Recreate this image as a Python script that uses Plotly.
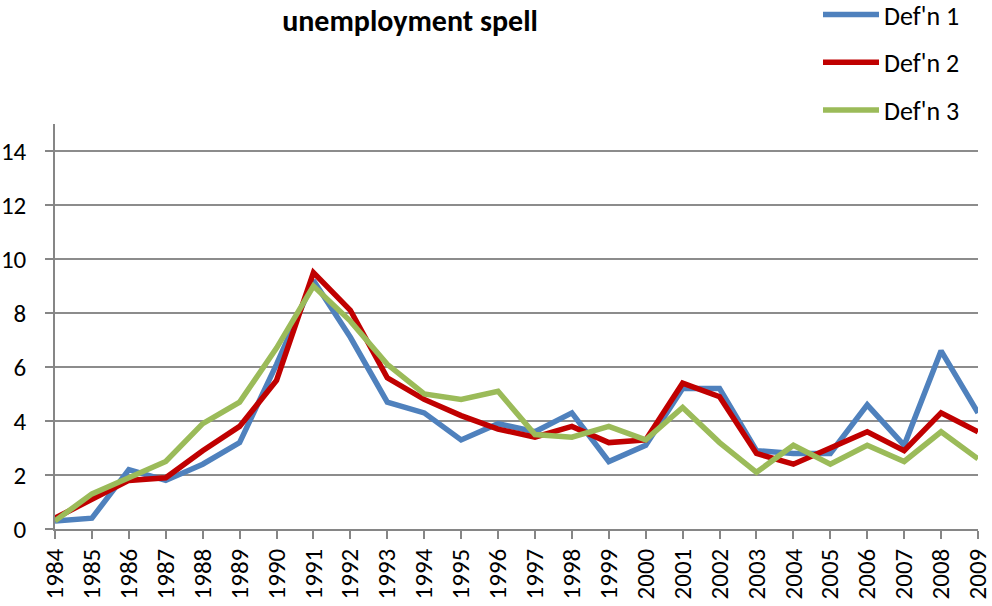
import plotly.graph_objects as go

years = list(range(1984, 2010))
defn1 = [0.3, 0.4, 2.2, 1.8, 2.4, 3.2, 6.1, 9.2, 7.1, 4.7, 4.3, 3.3, 3.9, 3.6, 4.3, 2.5, 3.1, 5.2, 5.2, 2.9, 2.8, 2.8, 4.6, 3.1, 6.6, 4.3]
defn2 = [0.4, 1.1, 1.8, 1.9, 2.9, 3.8, 5.5, 9.5, 8.1, 5.6, 4.8, 4.2, 3.7, 3.4, 3.8, 3.2, 3.3, 5.4, 4.9, 2.8, 2.4, 3.0, 3.6, 2.9, 4.3, 3.6]
defn3 = [0.3, 1.3, 1.9, 2.5, 3.9, 4.7, 6.7, 9.0, 7.7, 6.1, 5.0, 4.8, 5.1, 3.5, 3.4, 3.8, 3.3, 4.5, 3.2, 2.1, 3.1, 2.4, 3.1, 2.5, 3.6, 2.6]
series_names = ["Def'n 1", "Def'n 2", "Def'n 3"]
colors = ["#4F81BD", "#C00000", "#9BBB59"]

FONT = "Carlito, Calibri, Lato, sans-serif"

fig = go.Figure()
for name, vals, col in zip(series_names, [defn1, defn2, defn3], colors):
    fig.add_trace(go.Scatter(x=years, y=vals, name=name, mode="lines",
                             line=dict(color=col, width=5.5), legendgroup=name))

fig.update_layout(
    width=992, height=606,
    margin=dict(l=55, r=14, t=124, b=77, autoexpand=False),
    paper_bgcolor="white", plot_bgcolor="white",
    font=dict(family=FONT, size=25, color="black"),
    title=dict(text="<b>unemployment spell</b>", x=410/992, xanchor="center",
               y=1-20/606, yanchor="middle", font=dict(size=30, family=FONT)),
    legend=dict(x=818/992, xanchor="left", xref="container",
                y=538/405, yanchor="top", yref="paper",
                tracegroupgap=11, itemwidth=56, font=dict(size=26, family=FONT),
                bgcolor="rgba(0,0,0,0)"),
    showlegend=True,
)
fig.update_xaxes(range=[1984, 2009], tickmode="array", tickvals=years,
                 ticktext=[str(y) for y in years], tickangle=-90, automargin=False,
                 ticklabeloverflow="allow",
                 showgrid=False, showline=True, linecolor="#868686", linewidth=1.5,
                 ticks="outside", ticklen=8, tickcolor="#868686", tickwidth=1.5,
                 zeroline=False, tickfont=dict(size=25, family=FONT))
fig.update_yaxes(range=[0, 15], tickmode="array", tickvals=list(range(0, 15, 2)),
                 automargin=False,
                 showgrid=True, gridcolor="#8c8c8c", gridwidth=1.5,
                 showline=True, linecolor="#868686", linewidth=1.5,
                 ticks="outside", ticklen=8, tickcolor="#868686", tickwidth=1.5,
                 ticklabelstandoff=14, zeroline=False, tickfont=dict(size=25, family=FONT))

fig.write_html("out.html")
